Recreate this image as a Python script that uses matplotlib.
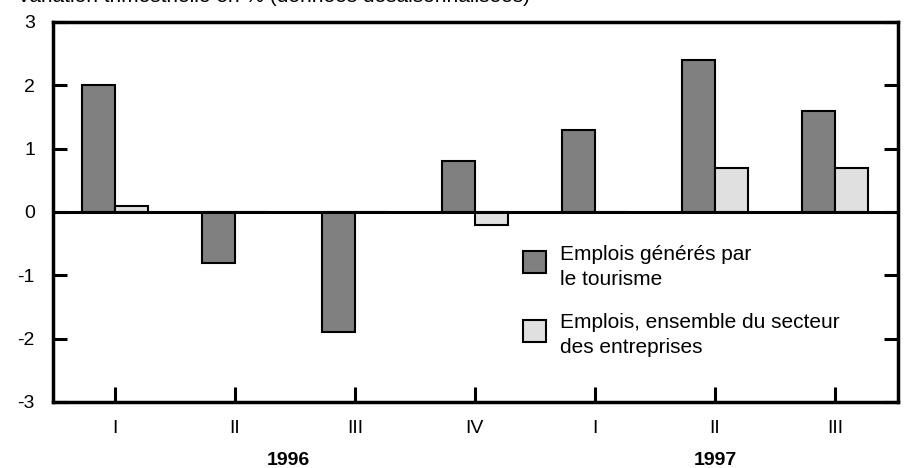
import matplotlib
matplotlib.use("Agg")
from matplotlib import pyplot as plt
from matplotlib.patches import Rectangle

plt.rcParams['font.family'] = ['Liberation Sans', 'DejaVu Sans']
plt.rcParams['axes.unicode_minus'] = False

# data
quarters = ['I', 'II', 'III', 'IV', 'I', 'II', 'III']
tourisme = [2.0, -0.8, -1.9, 0.8, 1.3, 2.4, 1.6]
entreprises = [0.1, 0.0, 0.0, -0.2, 0.0, 0.7, 0.7]
years = ['1996', '1997']
year_pos = [1.45, 5.0]
year_start = [0, 4]
series_names = ['Emplois générés par\nle tourisme',
                'Emplois, ensemble du secteur\ndes entreprises']

dark = '#808080'
light = '#e0e0e0'

fig = plt.figure(figsize=(9.17, 4.68), dpi=100)
ax = fig.add_axes([53 / 917, 66 / 468, 845 / 917, 380 / 468])

x = list(range(len(quarters)))
w = 0.275
ax.bar([i - w / 2 for i in x], tourisme, width=w, color=dark,
       edgecolor='black', linewidth=1.5, zorder=2)
ax.bar([i + w / 2 for i in x], entreprises, width=w, color=light,
       edgecolor='black', linewidth=1.5, zorder=2)

ax.axhline(0, color='black', linewidth=2.2, zorder=3)

ax.set_xlim(-0.515, 6.525)
ax.set_ylim(-3, 3)
ax.set_yticks(range(-3, 4))
ax.tick_params(axis='y', direction='in', length=10, width=2.2, labelsize=14,
               pad=13, right=True)

ax.set_xticks(x)
ax.set_xticklabels(quarters, fontsize=14)
ax.tick_params(axis='x', which='major', direction='in', length=11, width=2.2,
               pad=13)
ax.set_xticks(year_start, minor=True)
ax.tick_params(axis='x', which='minor', direction='in', length=17, width=2.2)

for s in ax.spines.values():
    s.set_linewidth(2.5)

for yr, pos in zip(years, year_pos):
    ax.text(pos, -0.153, yr, transform=ax.get_xaxis_transform(),
            ha='center', va='center', fontsize=14, fontweight='bold')

# legend drawn by hand (square sits a bit high against the text)
# text y is the baseline of the last line
for name, col, sq_y, txt_y in zip(series_names, [dark, light],
                                  [0.3395, 0.1579], [0.3079, 0.1289]):
    ax.add_patch(Rectangle((0.5562, sq_y), 0.0272, 0.0579, transform=ax.transAxes,
                           facecolor=col, edgecolor='black', linewidth=1.5,
                           zorder=4))
    ax.text(0.6, txt_y, name, transform=ax.transAxes, ha='left', va='baseline',
            fontsize=15, linespacing=1.4)

fig.text(17 / 917, 1 - 2 / 468, 'Variation trimestrielle en % (données désaisonnalisées)',
         ha='left', va='baseline', fontsize=15)

fig.savefig('out.png', dpi=100)
